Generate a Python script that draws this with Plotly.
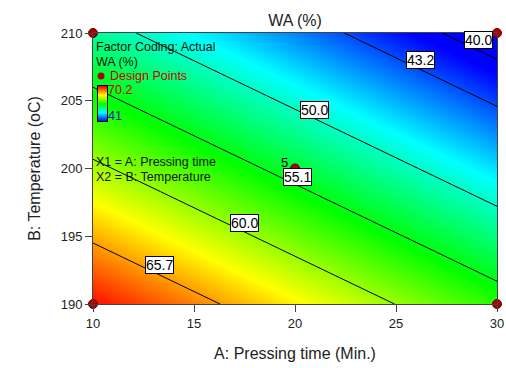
import plotly.graph_objects as go

# Response surface for WA (%) on a coarse factor grid
pressing_time = [10, 20, 30]          # A: Pressing time (Min.)
temperature = [190, 200, 210]         # B: Temperature (oC)
wa_surface = [
    [69.85, 63.25, 56.65],            # B = 190
    [60.63, 54.03, 47.43],            # B = 200
    [51.41, 44.81, 38.21],            # B = 210
]
wa_min, wa_max = 41, 70.2

# Labelled contour levels and where each label sits (A, B)
contour_levels = [40.0, 43.2, 50.0, 55.1, 60.0, 65.7]
label_pos_a = [29.1, 26.2, 20.95, 20.1, 17.5, 13.3]
label_pos_b = [209.45, 208.0, 204.3, 199.4, 196.0, 192.9]

# Design points (corners and centre, centre replicated 5 times)
design_a = [10, 10, 30, 30, 20]
design_b = [190, 210, 190, 210, 200]
centre_reps = "5"

x_ticks = [10, 15, 20, 25, 30]
y_ticks = [190, 195, 200, 205, 210]

FONT = "Arial, Liberation Sans, sans-serif"
colorscale = [
    [0.0, "rgb(0,0,255)"],
    [0.25, "rgb(0,255,255)"],
    [0.5, "rgb(0,255,0)"],
    [0.75, "rgb(255,255,0)"],
    [1.0, "rgb(255,0,0)"],
]

W, H = 404.0, 271.0
def px2paper(x, y):
    return (x - 93) / W, (304 - y) / H

fig = go.Figure()

# Filled colour surface
fig.add_trace(go.Contour(
    x=pressing_time, y=temperature, z=wa_surface,
    colorscale=colorscale, zauto=False, zmin=wa_min, zmax=wa_max,
    contours=dict(coloring="heatmap", showlines=False,
                  start=wa_min, end=wa_max, size=wa_max - wa_min),
    line=dict(width=0),
    hoverinfo="skip", showscale=False,
))

# One black line per labelled level
for lvl in contour_levels:
    fig.add_trace(go.Contour(
        x=pressing_time, y=temperature, z=wa_surface,
        autocontour=False,
        contours=dict(coloring="none", start=lvl, end=lvl, size=1, showlines=True),
        line=dict(color="black", width=1),
        showscale=False, hoverinfo="skip",
    ))

# Design points
fig.add_trace(go.Scatter(
    x=design_a, y=design_b, mode="markers",
    marker=dict(color="#b00000", size=9, line=dict(color="#600000", width=1)),
    cliponaxis=False, hoverinfo="skip", showlegend=False,
))

# Small inset colour key (drawn on its own tiny axes)
fig.add_trace(go.Heatmap(
    z=[[wa_min], [wa_max]], x=[0], y=[0, 1],
    colorscale=colorscale, zmin=wa_min, zmax=wa_max, zsmooth="best",
    showscale=False, hoverinfo="skip", xaxis="x3", yaxis="y3",
))
bx0, by0 = px2paper(98, 121)
bx1, by1 = px2paper(107, 86)

annotations = []
for lvl, a, b in zip(contour_levels, label_pos_a, label_pos_b):
    annotations.append(dict(
        x=a, y=b, xref="x", yref="y", text=f"{lvl:.1f}", showarrow=False,
        font=dict(family=FONT, size=14, color="black"),
        bgcolor="white", bordercolor="black", borderwidth=1, borderpad=0,
    ))

annotations.append(dict(x=19.72, y=200.48, xref="x", yref="y", text=centre_reps,
                        showarrow=False, xanchor="right", borderpad=0,
                        font=dict(family=FONT, size=13, color="black")))

def paper_text(px, py, text, color="#111111", size=12.5):
    return dict(x=px, y=py, xref="paper", yref="paper", text=text, showarrow=False,
                xanchor="left", yanchor="middle",
                font=dict(family=FONT, size=size, color=color))

for (x, y, t, c) in [
    (94, 47, "Factor Coding: Actual", "#111111"),
    (94, 62, "WA (%)", "#111111"),
    (108, 76, "Design Points", "#cc0000"),
    (106, 90, "70.2", "#cc0000"),
    (106, 116, "41", "#1a1acc"),
    (94, 162, "X1 = A: Pressing time", "#111111"),
    (94, 177, "X2 = B: Temperature", "#111111"),
]:
    xp, yp = px2paper(x, y)
    annotations.append(paper_text(xp, yp, t, c))

xp, yp = px2paper(101, 76)
fig.add_trace(go.Scatter(
    x=[xp], y=[yp], xaxis="x2", yaxis="y2", mode="markers",
    marker=dict(color="#b00000", size=7), hoverinfo="skip", showlegend=False,
))

axis_common = dict(
    showgrid=False, zeroline=False, showline=True, linecolor="#444444",
    linewidth=1, mirror=True, ticks="outside", ticklen=7, tickcolor="#444444",
    tickfont=dict(family=FONT, size=13, color="#222222"), automargin=False,
)

fig.update_layout(
    width=506, height=368,
    margin=dict(l=93, r=9, t=33, b=64, autoexpand=False),
    paper_bgcolor="white", plot_bgcolor="white",
    showlegend=False,
    title=dict(text="WA (%)", x=(93 + 202) / 506, xanchor="center", y=1 - 20 / 368,
               yanchor="middle", font=dict(family=FONT, size=16, color="#222222")),
    xaxis=dict(range=[10, 30], tickvals=x_ticks,
               title=dict(text="A: Pressing time (Min.)", standoff=18,
                          font=dict(family=FONT, size=16, color="#222222")),
               **axis_common),
    yaxis=dict(range=[190, 210], tickvals=y_ticks,
               title=dict(text="B: Temperature (oC)", standoff=16,
                          font=dict(family=FONT, size=16, color="#222222")),
               **axis_common),
    xaxis2=dict(range=[0, 1], overlaying="x", visible=False),
    yaxis2=dict(range=[0, 1], overlaying="y", visible=False),
    xaxis3=dict(domain=[bx0, bx1], anchor="y3", range=[-0.5, 0.5], showgrid=False,
                zeroline=False, showticklabels=False, ticks="", showline=True,
                mirror=True, linecolor="black", linewidth=1, automargin=False),
    yaxis3=dict(domain=[by0, by1], anchor="x3", range=[0, 1], showgrid=False,
                zeroline=False, showticklabels=False, ticks="", showline=True,
                mirror=True, linecolor="black", linewidth=1, automargin=False),
    annotations=annotations,
)

fig.write_html("out.html")
